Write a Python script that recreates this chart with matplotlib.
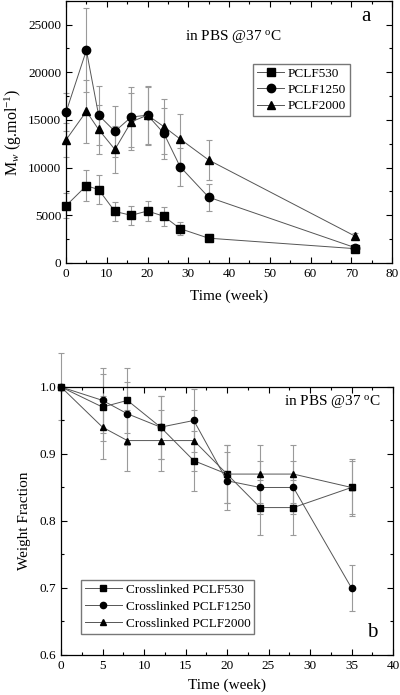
import matplotlib
matplotlib.use("Agg")
import matplotlib.pyplot as plt
from matplotlib.ticker import MultipleLocator, FormatStrFormatter

plt.rcParams['font.family'] = ['Liberation Serif', 'DejaVu Serif']
plt.rcParams['mathtext.fontset'] = 'custom'
plt.rcParams['mathtext.rm'] = 'Liberation Serif'
plt.rcParams['mathtext.it'] = 'Liberation Serif:italic'

# --- panel a: molecular weight ---
weeks_a = [0, 5, 8, 12, 16, 20, 24, 28, 35, 71]
mw_530 = [6000, 8100, 7700, 5400, 5000, 5450, 4900, 3600, 2600, 1500]
mw_530_err = [1300, 1600, 1500, 1000, 1000, 1100, 1000, 700, 450, 300]
mw_1250 = [15800, 22300, 15500, 13800, 15300, 15500, 13600, 10100, 6900, 1600]
mw_1250_err = [2000, 4400, 3100, 2700, 3100, 3100, 2700, 2000, 1400, 300]
mw_2000 = [12900, 15900, 14000, 11900, 14800, 15500, 14300, 13000, 10800, 2800]
mw_2000_err = [1800, 3300, 2600, 2500, 3000, 3000, 2900, 2600, 2100, 300]
labels_a = ["PCLF530", "PCLF1250", "PCLF2000"]

# --- panel b: weight fraction ---
weeks_b = [0, 5, 8, 12, 16, 20, 24, 28, 35]
wf_530 = [1.0, 0.97, 0.98, 0.94, 0.89, 0.87, 0.82, 0.82, 0.85]
wf_530_err = [0.05, 0.05, 0.048, 0.047, 0.045, 0.043, 0.041, 0.041, 0.043]
wf_1250 = [1.0, 0.98, 0.96, 0.94, 0.95, 0.86, 0.85, 0.85, 0.70]
wf_1250_err = [0.0, 0.048, 0.047, 0.047, 0.047, 0.043, 0.04, 0.04, 0.035]
wf_2000 = [1.0, 0.94, 0.92, 0.92, 0.92, 0.87, 0.87, 0.87, 0.85]
wf_2000_err = [0.0, 0.047, 0.045, 0.045, 0.045, 0.043, 0.043, 0.043, 0.04]
labels_b = ["Crosslinked PCLF530", "Crosslinked PCLF1250", "Crosslinked PCLF2000"]

markers = ["s", "o", "^"]
line_col = "#555555"
err_col = "#9a9a9a"


def draw_series(ax, x, ys, errs, labels, msize):
    for y, e, m, lab in zip(ys, errs, markers, labels):
        eb = ax.errorbar(x, y, yerr=e, fmt="none", ecolor=err_col,
                         elinewidth=0.8, capsize=2, capthick=0.8, zorder=1)
        for art in eb.lines[1] + eb.lines[2]:
            art.set_clip_on(False)
        ax.plot(x, y, marker=m, color=line_col, lw=0.7, mfc="black",
                mec="black", ms=msize, label=lab, zorder=3, clip_on=False)


def style_axes(ax):
    ax.tick_params(which="both", direction="in", top=True, right=True,
                   labelsize=9.5)
    ax.tick_params(which="major", length=4, width=0.8)
    ax.tick_params(which="minor", length=2, width=0.8)
    for s in ax.spines.values():
        s.set_linewidth(0.9)


fig = plt.figure(figsize=(4, 6.95), dpi=100)

ax1 = fig.add_axes([0.165, 0.6216, 0.815, 0.3774])
draw_series(ax1, weeks_a, [mw_530, mw_1250, mw_2000],
            [mw_530_err, mw_1250_err, mw_2000_err], labels_a, 6)
ax1.set_xlim(0, 80)
ax1.set_ylim(0, 27500)
ax1.xaxis.set_major_locator(MultipleLocator(10))
ax1.xaxis.set_minor_locator(MultipleLocator(5))
ax1.yaxis.set_major_locator(MultipleLocator(5000))
ax1.yaxis.set_minor_locator(MultipleLocator(2500))
style_axes(ax1)
ax1.set_xlabel("Time (week)", fontsize=11, labelpad=7)
ax1.set_ylabel(r"M$_w$ (g.mol$^{-1}$)", fontsize=11.5, labelpad=3)
ax1.text(29.2, 23700, r"in PBS @37 $^{\rm o}$C", fontsize=11, va="center")
ax1.text(72.5, 25800, "a", fontsize=15, va="center")
ax1.legend(loc="upper left", bbox_to_anchor=(0.575, 0.76), fontsize=9.5,
           frameon=True, fancybox=False, edgecolor="#555555",
           handlelength=2.0, borderpad=0.3, labelspacing=0.3,
           handletextpad=0.3, borderaxespad=0)

ax2 = fig.add_axes([0.1525, 0.0576, 0.83, 0.3856])
draw_series(ax2, weeks_b, [wf_530, wf_1250, wf_2000],
            [wf_530_err, wf_1250_err, wf_2000_err], labels_b, 4.5)
ax2.set_xlim(0, 40)
ax2.set_ylim(0.6, 1.0)
ax2.xaxis.set_major_locator(MultipleLocator(5))
ax2.xaxis.set_minor_locator(MultipleLocator(2.5))
ax2.yaxis.set_major_locator(MultipleLocator(0.1))
ax2.yaxis.set_minor_locator(MultipleLocator(0.05))
ax2.yaxis.set_major_formatter(FormatStrFormatter("%.1f"))
style_axes(ax2)
ax2.set_xlabel("Time (week)", fontsize=11, labelpad=5)
ax2.set_ylabel("Weight Fraction", fontsize=11, labelpad=6)
ax2.text(26.9, 0.978, r"in PBS @37 $^{\rm o}$C", fontsize=11, va="center")
ax2.text(36.9, 0.633, "b", fontsize=15, va="center")
ax2.legend(loc="lower left", bbox_to_anchor=(0.06, 0.08), fontsize=9.5,
           frameon=True, fancybox=False, edgecolor="#555555",
           handlelength=2.8, borderpad=0.3, labelspacing=0.35,
           handletextpad=0.3, borderaxespad=0)

fig.savefig("out.png", dpi=100)
